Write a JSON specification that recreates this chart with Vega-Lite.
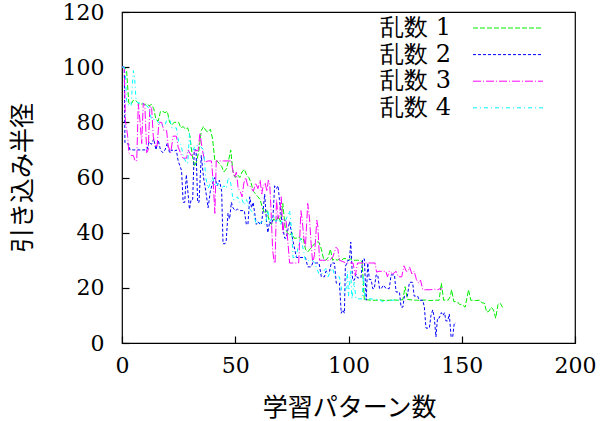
{
  "$schema": "https://vega.github.io/schema/vega-lite/v6.json",
  "width": 453,
  "height": 331,
  "autosize": {"type": "none"},
  "padding": {"left": 122, "top": 12, "right": 27, "bottom": 78},
  "background": "white",
  "config": {
    "view": {"stroke": "black", "strokeWidth": 1.2},
    "axis": {
      "domain": false,
      "grid": false,
      "labelColor": "black",
      "labelFontSize": 22,
      "labelFont": "DejaVu Serif",
      "titleFont": "Noto Sans CJK JP",
      "titleFontSize": 25,
      "titleFontWeight": "normal",
      "titleColor": "black",
      "labelFlush": false,
      "labelOverlap": false
    }
  },
  "data": {
    "values": [
      {"s":"乱数 1","x":0,"y":100},{"s":"乱数 1","x":1,"y":100},{"s":"乱数 1","x":2,"y":99},{"s":"乱数 1","x":3,"y":87},{"s":"乱数 1","x":4,"y":86.5},{"s":"乱数 1","x":5,"y":88},{"s":"乱数 1","x":6,"y":88},{"s":"乱数 1","x":7,"y":87},{"s":"乱数 1","x":8,"y":86.5},{"s":"乱数 1","x":9,"y":86.7},{"s":"乱数 1","x":10,"y":86.5},{"s":"乱数 1","x":11,"y":86.7},{"s":"乱数 1","x":12,"y":86},{"s":"乱数 1","x":13,"y":86.5},{"s":"乱数 1","x":14,"y":85},{"s":"乱数 1","x":15,"y":81},{"s":"乱数 1","x":16,"y":80.5},{"s":"乱数 1","x":17,"y":84},{"s":"乱数 1","x":18,"y":84},{"s":"乱数 1","x":19,"y":83.5},{"s":"乱数 1","x":20,"y":84},{"s":"乱数 1","x":21,"y":80},{"s":"乱数 1","x":22,"y":79},{"s":"乱数 1","x":23,"y":80},{"s":"乱数 1","x":24,"y":80},{"s":"乱数 1","x":25,"y":80},{"s":"乱数 1","x":26,"y":78},{"s":"乱数 1","x":27,"y":78.5},{"s":"乱数 1","x":28,"y":77.5},{"s":"乱数 1","x":29,"y":78},{"s":"乱数 1","x":30,"y":75},{"s":"乱数 1","x":31,"y":68},{"s":"乱数 1","x":32,"y":64},{"s":"乱数 1","x":33,"y":66},{"s":"乱数 1","x":34,"y":70},{"s":"乱数 1","x":35,"y":77},{"s":"乱数 1","x":36,"y":78.5},{"s":"乱数 1","x":37,"y":77},{"s":"乱数 1","x":38,"y":76.5},{"s":"乱数 1","x":39,"y":77.5},{"s":"乱数 1","x":40,"y":74},{"s":"乱数 1","x":41,"y":66},{"s":"乱数 1","x":42,"y":66},{"s":"乱数 1","x":43,"y":65},{"s":"乱数 1","x":44,"y":64},{"s":"乱数 1","x":45,"y":62},{"s":"乱数 1","x":46,"y":63},{"s":"乱数 1","x":47,"y":66},{"s":"乱数 1","x":48,"y":70},{"s":"乱数 1","x":49,"y":62},{"s":"乱数 1","x":50,"y":60},{"s":"乱数 1","x":51,"y":61},{"s":"乱数 1","x":52,"y":60},{"s":"乱数 1","x":53,"y":62},{"s":"乱数 1","x":54,"y":63},{"s":"乱数 1","x":55,"y":61},{"s":"乱数 1","x":56,"y":60},{"s":"乱数 1","x":57,"y":58},{"s":"乱数 1","x":58,"y":55},{"s":"乱数 1","x":59,"y":54},{"s":"乱数 1","x":60,"y":53},{"s":"乱数 1","x":61,"y":52},{"s":"乱数 1","x":62,"y":49},{"s":"乱数 1","x":63,"y":47},{"s":"乱数 1","x":64,"y":48},{"s":"乱数 1","x":65,"y":44},{"s":"乱数 1","x":66,"y":43},{"s":"乱数 1","x":67,"y":45},{"s":"乱数 1","x":68,"y":44},{"s":"乱数 1","x":69,"y":46},{"s":"乱数 1","x":70,"y":44},{"s":"乱数 1","x":71,"y":50.6},{"s":"乱数 1","x":72,"y":42},{"s":"乱数 1","x":73,"y":40},{"s":"乱数 1","x":74,"y":39},{"s":"乱数 1","x":75,"y":40},{"s":"乱数 1","x":76,"y":38},{"s":"乱数 1","x":77,"y":38},{"s":"乱数 1","x":78,"y":38.5},{"s":"乱数 1","x":79,"y":37.5},{"s":"乱数 1","x":80,"y":38},{"s":"乱数 1","x":81,"y":34},{"s":"乱数 1","x":82,"y":33},{"s":"乱数 1","x":83,"y":34},{"s":"乱数 1","x":84,"y":35},{"s":"乱数 1","x":85,"y":36},{"s":"乱数 1","x":86,"y":36.7},{"s":"乱数 1","x":87,"y":36.5},{"s":"乱数 1","x":88,"y":34},{"s":"乱数 1","x":89,"y":30.5},{"s":"乱数 1","x":90,"y":30},{"s":"乱数 1","x":91,"y":31},{"s":"乱数 1","x":92,"y":34},{"s":"乱数 1","x":93,"y":30},{"s":"乱数 1","x":94,"y":30.5},{"s":"乱数 1","x":95,"y":30},{"s":"乱数 1","x":96,"y":30.5},{"s":"乱数 1","x":97,"y":30},{"s":"乱数 1","x":98,"y":30.7},{"s":"乱数 1","x":99,"y":30.5},{"s":"乱数 1","x":100,"y":30},{"s":"乱数 1","x":101,"y":30.5},{"s":"乱数 1","x":102,"y":30},{"s":"乱数 1","x":103,"y":30},{"s":"乱数 1","x":104,"y":30},{"s":"乱数 1","x":105,"y":30},{"s":"乱数 1","x":106,"y":29.5},{"s":"乱数 1","x":107,"y":15.5},{"s":"乱数 1","x":108,"y":15.7},{"s":"乱数 1","x":110,"y":15.5},{"s":"乱数 1","x":112,"y":15.5},{"s":"乱数 1","x":114,"y":15.6},{"s":"乱数 1","x":116,"y":15.4},{"s":"乱数 1","x":118,"y":15.5},{"s":"乱数 1","x":120,"y":15.6},{"s":"乱数 1","x":122,"y":15.5},{"s":"乱数 1","x":124,"y":15.7},{"s":"乱数 1","x":125,"y":20.4},{"s":"乱数 1","x":126,"y":15.8},{"s":"乱数 1","x":128,"y":15.6},{"s":"乱数 1","x":130,"y":15.5},{"s":"乱数 1","x":132,"y":15.5},{"s":"乱数 1","x":134,"y":15.6},{"s":"乱数 1","x":136,"y":15.4},{"s":"乱数 1","x":138,"y":15.5},{"s":"乱数 1","x":140,"y":15.5},{"s":"乱数 1","x":141,"y":21.7},{"s":"乱数 1","x":142,"y":15.5},{"s":"乱数 1","x":143,"y":15.6},{"s":"乱数 1","x":144,"y":15.5},{"s":"乱数 1","x":145,"y":17},{"s":"乱数 1","x":145.5,"y":19.3},{"s":"乱数 1","x":146.5,"y":15},{"s":"乱数 1","x":148,"y":15},{"s":"乱数 1","x":149,"y":14},{"s":"乱数 1","x":150,"y":14},{"s":"乱数 1","x":151.5,"y":13},{"s":"乱数 1","x":153,"y":19.3},{"s":"乱数 1","x":154,"y":15.5},{"s":"乱数 1","x":156,"y":15.4},{"s":"乱数 1","x":158,"y":15.5},{"s":"乱数 1","x":159,"y":14.5},{"s":"乱数 1","x":160,"y":14.5},{"s":"乱数 1","x":161,"y":11.2},{"s":"乱数 1","x":162,"y":11.5},{"s":"乱数 1","x":163,"y":13},{"s":"乱数 1","x":164,"y":12},{"s":"乱数 1","x":165,"y":9},{"s":"乱数 1","x":166,"y":14},{"s":"乱数 1","x":167,"y":14.4},{"s":"乱数 1","x":168.5,"y":12.3},
      {"s":"乱数 2","x":0,"y":100},{"s":"乱数 2","x":1,"y":100},{"s":"乱数 2","x":1.3,"y":72.6},{"s":"乱数 2","x":3,"y":72},{"s":"乱数 2","x":3.5,"y":70},{"s":"乱数 2","x":5,"y":70},{"s":"乱数 2","x":7,"y":70},{"s":"乱数 2","x":9,"y":70},{"s":"乱数 2","x":11,"y":70},{"s":"乱数 2","x":12,"y":73},{"s":"乱数 2","x":13,"y":72},{"s":"乱数 2","x":14,"y":74},{"s":"乱数 2","x":15,"y":70},{"s":"乱数 2","x":16,"y":73.5},{"s":"乱数 2","x":17,"y":70},{"s":"乱数 2","x":18,"y":69},{"s":"乱数 2","x":19,"y":70},{"s":"乱数 2","x":20,"y":72.5},{"s":"乱数 2","x":21,"y":69},{"s":"乱数 2","x":22,"y":70},{"s":"乱数 2","x":23,"y":69.5},{"s":"乱数 2","x":24,"y":70},{"s":"乱数 2","x":24.8,"y":66},{"s":"乱数 2","x":26.3,"y":62.5},{"s":"乱数 2","x":27,"y":51},{"s":"乱数 2","x":27.7,"y":51},{"s":"乱数 2","x":28.4,"y":61},{"s":"乱数 2","x":29.8,"y":48.5},{"s":"乱数 2","x":30.5,"y":52},{"s":"乱数 2","x":31.2,"y":52},{"s":"乱数 2","x":31.9,"y":70},{"s":"乱数 2","x":32.7,"y":70},{"s":"乱数 2","x":33.4,"y":51},{"s":"乱数 2","x":34,"y":51},{"s":"乱数 2","x":35,"y":68},{"s":"乱数 2","x":36,"y":60},{"s":"乱数 2","x":37,"y":55},{"s":"乱数 2","x":38,"y":49},{"s":"乱数 2","x":39,"y":55},{"s":"乱数 2","x":40,"y":58},{"s":"乱数 2","x":41,"y":60},{"s":"乱数 2","x":42,"y":57},{"s":"乱数 2","x":43,"y":59},{"s":"乱数 2","x":44,"y":55},{"s":"乱数 2","x":44.6,"y":36},{"s":"乱数 2","x":45.5,"y":36},{"s":"乱数 2","x":46,"y":37},{"s":"乱数 2","x":46.8,"y":47},{"s":"乱数 2","x":47.5,"y":45},{"s":"乱数 2","x":48.3,"y":51},{"s":"乱数 2","x":49,"y":49},{"s":"乱数 2","x":50,"y":48},{"s":"乱数 2","x":51,"y":48.5},{"s":"乱数 2","x":52,"y":48},{"s":"乱数 2","x":53,"y":48},{"s":"乱数 2","x":54,"y":48},{"s":"乱数 2","x":54.9,"y":43},{"s":"乱数 2","x":55.6,"y":43},{"s":"乱数 2","x":56.4,"y":53},{"s":"乱数 2","x":57.2,"y":49},{"s":"乱数 2","x":57.9,"y":51},{"s":"乱数 2","x":58.6,"y":47},{"s":"乱数 2","x":59.3,"y":43},{"s":"乱数 2","x":60,"y":44},{"s":"乱数 2","x":61,"y":43},{"s":"乱数 2","x":61.5,"y":43},{"s":"乱数 2","x":62.3,"y":48},{"s":"乱数 2","x":63,"y":54},{"s":"乱数 2","x":63.7,"y":45},{"s":"乱数 2","x":64.4,"y":40},{"s":"乱数 2","x":65.2,"y":44},{"s":"乱数 2","x":66,"y":43},{"s":"乱数 2","x":66.6,"y":45},{"s":"乱数 2","x":67.4,"y":57},{"s":"乱数 2","x":68.2,"y":56},{"s":"乱数 2","x":68.9,"y":57},{"s":"乱数 2","x":69.5,"y":52},{"s":"乱数 2","x":70.3,"y":46},{"s":"乱数 2","x":71,"y":42},{"s":"乱数 2","x":71.8,"y":38},{"s":"乱数 2","x":72.5,"y":38},{"s":"乱数 2","x":73.2,"y":41},{"s":"乱数 2","x":74,"y":44},{"s":"乱数 2","x":75,"y":39},{"s":"乱数 2","x":76,"y":35},{"s":"乱数 2","x":77,"y":31},{"s":"乱数 2","x":78,"y":31},{"s":"乱数 2","x":79,"y":31},{"s":"乱数 2","x":80,"y":31},{"s":"乱数 2","x":81,"y":31},{"s":"乱数 2","x":82,"y":27.6},{"s":"乱数 2","x":83.5,"y":27.6},{"s":"乱数 2","x":84.2,"y":29},{"s":"乱数 2","x":85,"y":29},{"s":"乱数 2","x":86,"y":29},{"s":"乱数 2","x":87,"y":29},{"s":"乱数 2","x":88,"y":24},{"s":"乱数 2","x":89.4,"y":24},{"s":"乱数 2","x":90,"y":26},{"s":"乱数 2","x":91.6,"y":26},{"s":"乱数 2","x":92.4,"y":29},{"s":"乱数 2","x":93.8,"y":29},{"s":"乱数 2","x":94.6,"y":21.7},{"s":"乱数 2","x":96,"y":21.7},{"s":"乱数 2","x":96.8,"y":10.8},{"s":"乱数 2","x":97.5,"y":12},{"s":"乱数 2","x":98.2,"y":10.8},{"s":"乱数 2","x":98.6,"y":27.6},{"s":"乱数 2","x":99.7,"y":30},{"s":"乱数 2","x":100.4,"y":30},{"s":"乱数 2","x":101,"y":36.6},{"s":"乱数 2","x":101.8,"y":22.8},{"s":"乱数 2","x":102.6,"y":22.8},{"s":"乱数 2","x":103.3,"y":25},{"s":"乱数 2","x":104,"y":23.6},{"s":"乱数 2","x":105.5,"y":23.6},{"s":"乱数 2","x":106.3,"y":30.5},{"s":"乱数 2","x":107,"y":30.5},{"s":"乱数 2","x":107.8,"y":15.5},{"s":"乱数 2","x":108.5,"y":29},{"s":"乱数 2","x":109.2,"y":23},{"s":"乱数 2","x":110,"y":23},{"s":"乱数 2","x":110.7,"y":19.7},{"s":"乱数 2","x":111.4,"y":19.7},{"s":"乱数 2","x":112.2,"y":24.7},{"s":"乱数 2","x":112.9,"y":24.7},{"s":"乱数 2","x":113.7,"y":19.7},{"s":"乱数 2","x":114.4,"y":19.7},{"s":"乱数 2","x":115.5,"y":21},{"s":"乱数 2","x":116.6,"y":19.7},{"s":"乱数 2","x":118,"y":19.7},{"s":"乱数 2","x":118.8,"y":24.7},{"s":"乱数 2","x":120.3,"y":24.7},{"s":"乱数 2","x":121,"y":18.5},{"s":"乱数 2","x":122.5,"y":18.5},{"s":"乱数 2","x":123.2,"y":13},{"s":"乱数 2","x":124,"y":13},{"s":"乱数 2","x":124.7,"y":17},{"s":"乱数 2","x":126,"y":17},{"s":"乱数 2","x":126.9,"y":22},{"s":"乱数 2","x":128.3,"y":22},{"s":"乱数 2","x":129,"y":17},{"s":"乱数 2","x":130.5,"y":17},{"s":"乱数 2","x":131.3,"y":15.5},{"s":"乱数 2","x":132.8,"y":15.5},{"s":"乱数 2","x":133.5,"y":13},{"s":"乱数 2","x":134.2,"y":5.4},{"s":"乱数 2","x":135.7,"y":5.4},{"s":"乱数 2","x":136.4,"y":10},{"s":"乱数 2","x":137.2,"y":12},{"s":"乱数 2","x":137.9,"y":9},{"s":"乱数 2","x":138.6,"y":2.2},{"s":"乱数 2","x":139.3,"y":9},{"s":"乱数 2","x":140,"y":9},{"s":"乱数 2","x":141,"y":11},{"s":"乱数 2","x":141.7,"y":10},{"s":"乱数 2","x":142.4,"y":11},{"s":"乱数 2","x":143,"y":8},{"s":"乱数 2","x":143.8,"y":8},{"s":"乱数 2","x":144.5,"y":10.5},{"s":"乱数 2","x":145.3,"y":2.2},{"s":"乱数 2","x":146,"y":2.2},{"s":"乱数 2","x":146.7,"y":7.2},{"s":"乱数 2","x":147.4,"y":7.2},
      {"s":"乱数 3","x":0,"y":100},{"s":"乱数 3","x":1,"y":100},{"s":"乱数 3","x":1.5,"y":80.6},{"s":"乱数 3","x":2.5,"y":75},{"s":"乱数 3","x":3,"y":69},{"s":"乱数 3","x":4,"y":68},{"s":"乱数 3","x":5,"y":68},{"s":"乱数 3","x":5.8,"y":66},{"s":"乱数 3","x":6.5,"y":66},{"s":"乱数 3","x":7.2,"y":86.7},{"s":"乱数 3","x":8,"y":80},{"s":"乱数 3","x":8.7,"y":72.3},{"s":"乱数 3","x":9.4,"y":87},{"s":"乱数 3","x":10.1,"y":86},{"s":"乱数 3","x":10.9,"y":69},{"s":"乱数 3","x":11.6,"y":70},{"s":"乱数 3","x":12.3,"y":86},{"s":"乱数 3","x":13.1,"y":85},{"s":"乱数 3","x":13.8,"y":75},{"s":"乱数 3","x":14.5,"y":71.5},{"s":"乱数 3","x":15.5,"y":71.5},{"s":"乱数 3","x":16.3,"y":80},{"s":"乱数 3","x":17.5,"y":80},{"s":"乱数 3","x":18.5,"y":77},{"s":"乱数 3","x":19.7,"y":77},{"s":"乱数 3","x":20.4,"y":71.5},{"s":"乱数 3","x":21.5,"y":69},{"s":"乱数 3","x":22.6,"y":75},{"s":"乱数 3","x":24,"y":75},{"s":"乱数 3","x":24.8,"y":71},{"s":"乱数 3","x":26.3,"y":68},{"s":"乱数 3","x":27,"y":67},{"s":"乱数 3","x":28.5,"y":67},{"s":"乱数 3","x":29.2,"y":70},{"s":"乱数 3","x":30.5,"y":68},{"s":"乱数 3","x":31.4,"y":68},{"s":"乱数 3","x":32.2,"y":69.7},{"s":"乱数 3","x":33.6,"y":69.7},{"s":"乱数 3","x":34.4,"y":76},{"s":"乱数 3","x":35.5,"y":70},{"s":"乱数 3","x":36.6,"y":65.5},{"s":"乱数 3","x":38,"y":66},{"s":"乱数 3","x":39.5,"y":66},{"s":"乱数 3","x":40.3,"y":58},{"s":"乱数 3","x":41,"y":47},{"s":"乱数 3","x":41.6,"y":66},{"s":"乱数 3","x":43,"y":66},{"s":"乱数 3","x":45,"y":66},{"s":"乱数 3","x":47,"y":66},{"s":"乱数 3","x":48.3,"y":66},{"s":"乱数 3","x":48.8,"y":63},{"s":"乱数 3","x":49.7,"y":60},{"s":"乱数 3","x":50.5,"y":62},{"s":"乱数 3","x":51.3,"y":56},{"s":"乱数 3","x":52.2,"y":55},{"s":"乱数 3","x":53,"y":53},{"s":"乱数 3","x":53.8,"y":58},{"s":"乱数 3","x":54.6,"y":60},{"s":"乱数 3","x":55.5,"y":57},{"s":"乱数 3","x":56.4,"y":57},{"s":"乱数 3","x":57.2,"y":56},{"s":"乱数 3","x":58,"y":55},{"s":"乱数 3","x":59,"y":58},{"s":"乱数 3","x":60,"y":56},{"s":"乱数 3","x":61,"y":59},{"s":"乱数 3","x":61.7,"y":54},{"s":"乱数 3","x":62.3,"y":57},{"s":"乱数 3","x":63.2,"y":58},{"s":"乱数 3","x":64,"y":55},{"s":"乱数 3","x":64.6,"y":59},{"s":"乱数 3","x":65.2,"y":57.8},{"s":"乱数 3","x":65.7,"y":50},{"s":"乱数 3","x":66.5,"y":34},{"s":"乱数 3","x":67.2,"y":29},{"s":"乱数 3","x":67.6,"y":29},{"s":"乱数 3","x":68.2,"y":52},{"s":"乱数 3","x":69,"y":45},{"s":"乱数 3","x":69.6,"y":47},{"s":"乱数 3","x":70.3,"y":53},{"s":"乱数 3","x":71,"y":40},{"s":"乱数 3","x":71.8,"y":45},{"s":"乱数 3","x":72.5,"y":44},{"s":"乱数 3","x":73.2,"y":37},{"s":"乱数 3","x":74,"y":29},{"s":"乱数 3","x":75,"y":29},{"s":"乱数 3","x":76.5,"y":29},{"s":"乱数 3","x":78,"y":29},{"s":"乱数 3","x":79,"y":48},{"s":"乱数 3","x":79.5,"y":45},{"s":"乱数 3","x":80.3,"y":38},{"s":"乱数 3","x":81,"y":35},{"s":"乱数 3","x":82,"y":50.6},{"s":"乱数 3","x":82.8,"y":45},{"s":"乱数 3","x":83.5,"y":36},{"s":"乱数 3","x":84.2,"y":29},{"s":"乱数 3","x":85,"y":32},{"s":"乱数 3","x":86,"y":44.5},{"s":"乱数 3","x":86.5,"y":42},{"s":"乱数 3","x":87.2,"y":30},{"s":"乱数 3","x":88.5,"y":30},{"s":"乱数 3","x":90,"y":30},{"s":"乱数 3","x":91.5,"y":30},{"s":"乱数 3","x":93,"y":31},{"s":"乱数 3","x":94.5,"y":34.7},{"s":"乱数 3","x":95.3,"y":34},{"s":"乱数 3","x":96,"y":30},{"s":"乱数 3","x":97.5,"y":29.5},{"s":"乱数 3","x":99,"y":29},{"s":"乱数 3","x":100.5,"y":29},{"s":"乱数 3","x":102,"y":29},{"s":"乱数 3","x":103,"y":24.5},{"s":"乱数 3","x":104,"y":29},{"s":"乱数 3","x":106,"y":29},{"s":"乱数 3","x":108,"y":29},{"s":"乱数 3","x":110,"y":29},{"s":"乱数 3","x":111.7,"y":29},{"s":"乱数 3","x":112.4,"y":25.7},{"s":"乱数 3","x":113.5,"y":26},{"s":"乱数 3","x":115,"y":26},{"s":"乱数 3","x":116.5,"y":26},{"s":"乱数 3","x":117.2,"y":24},{"s":"乱数 3","x":118,"y":26},{"s":"乱数 3","x":119.5,"y":25},{"s":"乱数 3","x":121,"y":26},{"s":"乱数 3","x":122,"y":24},{"s":"乱数 3","x":123.5,"y":24},{"s":"乱数 3","x":124.5,"y":28},{"s":"乱数 3","x":125.5,"y":26},{"s":"乱数 3","x":126.3,"y":26},{"s":"乱数 3","x":127,"y":27.5},{"s":"乱数 3","x":128,"y":25},{"s":"乱数 3","x":129,"y":26},{"s":"乱数 3","x":130,"y":23},{"s":"乱数 3","x":131,"y":21.7},{"s":"乱数 3","x":131.8,"y":22.8},{"s":"乱数 3","x":132.8,"y":19.3},{"s":"乱数 3","x":134,"y":19.3},{"s":"乱数 3","x":136,"y":19.3},{"s":"乱数 3","x":138,"y":19.5},{"s":"乱数 3","x":139.5,"y":19.3},{"s":"乱数 3","x":140.5,"y":19.8},{"s":"乱数 3","x":141.4,"y":19.5},
      {"s":"乱数 4","x":0,"y":100},{"s":"乱数 4","x":1,"y":100},{"s":"乱数 4","x":1.5,"y":98},{"s":"乱数 4","x":2,"y":88},{"s":"乱数 4","x":3,"y":86},{"s":"乱数 4","x":4,"y":86},{"s":"乱数 4","x":5,"y":98.7},{"s":"乱数 4","x":5.5,"y":97},{"s":"乱数 4","x":6.2,"y":88},{"s":"乱数 4","x":7,"y":87},{"s":"乱数 4","x":8,"y":87},{"s":"乱数 4","x":9,"y":87},{"s":"乱数 4","x":10,"y":86},{"s":"乱数 4","x":11,"y":86},{"s":"乱数 4","x":12,"y":85},{"s":"乱数 4","x":13,"y":81},{"s":"乱数 4","x":14,"y":81},{"s":"乱数 4","x":15,"y":81},{"s":"乱数 4","x":16,"y":80},{"s":"乱数 4","x":17,"y":79},{"s":"乱数 4","x":18,"y":79},{"s":"乱数 4","x":19,"y":79},{"s":"乱数 4","x":20,"y":81.5},{"s":"乱数 4","x":21,"y":81.5},{"s":"乱数 4","x":22,"y":78},{"s":"乱数 4","x":23,"y":78},{"s":"乱数 4","x":24,"y":78},{"s":"乱数 4","x":25,"y":73},{"s":"乱数 4","x":26,"y":72},{"s":"乱数 4","x":27,"y":68},{"s":"乱数 4","x":28,"y":66},{"s":"乱数 4","x":29,"y":65},{"s":"乱数 4","x":29.8,"y":76},{"s":"乱数 4","x":30.5,"y":70},{"s":"乱数 4","x":31.5,"y":70},{"s":"乱数 4","x":32.2,"y":71.5},{"s":"乱数 4","x":33.6,"y":71.5},{"s":"乱数 4","x":35,"y":71},{"s":"乱数 4","x":36,"y":70},{"s":"乱数 4","x":37,"y":60},{"s":"乱数 4","x":38,"y":56},{"s":"乱数 4","x":39,"y":58},{"s":"乱数 4","x":40,"y":60},{"s":"乱数 4","x":41,"y":57},{"s":"乱数 4","x":42,"y":58},{"s":"乱数 4","x":43,"y":56},{"s":"乱数 4","x":44,"y":56},{"s":"乱数 4","x":45,"y":57},{"s":"乱数 4","x":46,"y":56},{"s":"乱数 4","x":47,"y":60},{"s":"乱数 4","x":48,"y":58},{"s":"乱数 4","x":49,"y":52},{"s":"乱数 4","x":50,"y":52},{"s":"乱数 4","x":51,"y":53},{"s":"乱数 4","x":52,"y":51},{"s":"乱数 4","x":53,"y":52},{"s":"乱数 4","x":54,"y":50},{"s":"乱数 4","x":55,"y":52},{"s":"乱数 4","x":56,"y":49},{"s":"乱数 4","x":57,"y":48},{"s":"乱数 4","x":58,"y":47},{"s":"乱数 4","x":59.3,"y":43},{"s":"乱数 4","x":60,"y":44},{"s":"乱数 4","x":61,"y":43.5},{"s":"乱数 4","x":62,"y":44},{"s":"乱数 4","x":63,"y":43},{"s":"乱数 4","x":63.6,"y":44},{"s":"乱数 4","x":64.4,"y":48},{"s":"乱数 4","x":65.2,"y":44},{"s":"乱数 4","x":66,"y":45},{"s":"乱数 4","x":67,"y":46},{"s":"乱数 4","x":68,"y":44},{"s":"乱数 4","x":69,"y":45},{"s":"乱数 4","x":70,"y":43},{"s":"乱数 4","x":71,"y":45},{"s":"乱数 4","x":72,"y":44},{"s":"乱数 4","x":73,"y":46},{"s":"乱数 4","x":74,"y":48},{"s":"乱数 4","x":75,"y":40},{"s":"乱数 4","x":75.5,"y":31},{"s":"乱数 4","x":76.9,"y":31},{"s":"乱数 4","x":78,"y":36},{"s":"乱数 4","x":79,"y":38},{"s":"乱数 4","x":80,"y":34},{"s":"乱数 4","x":81,"y":30},{"s":"乱数 4","x":82,"y":30},{"s":"乱数 4","x":83,"y":30},{"s":"乱数 4","x":84,"y":30},{"s":"乱数 4","x":85,"y":29},{"s":"乱数 4","x":86,"y":27},{"s":"乱数 4","x":87,"y":25},{"s":"乱数 4","x":88,"y":25},{"s":"乱数 4","x":89,"y":26},{"s":"乱数 4","x":90,"y":27},{"s":"乱数 4","x":91,"y":24},{"s":"乱数 4","x":92,"y":26},{"s":"乱数 4","x":93,"y":27},{"s":"乱数 4","x":94,"y":24},{"s":"乱数 4","x":95,"y":24},{"s":"乱数 4","x":96,"y":24},{"s":"乱数 4","x":97,"y":19},{"s":"乱数 4","x":98,"y":18},{"s":"乱数 4","x":99,"y":20},{"s":"乱数 4","x":99.5,"y":26},{"s":"乱数 4","x":100,"y":17},{"s":"乱数 4","x":101,"y":26},{"s":"乱数 4","x":101.5,"y":16},{"s":"乱数 4","x":102.5,"y":22},{"s":"乱数 4","x":103.3,"y":16},{"s":"乱数 4","x":104,"y":16},{"s":"乱数 4","x":105,"y":16},{"s":"乱数 4","x":106,"y":16},{"s":"乱数 4","x":106.6,"y":24.5},{"s":"乱数 4","x":107.3,"y":16},{"s":"乱数 4","x":108,"y":16},{"s":"乱数 4","x":110,"y":16},{"s":"乱数 4","x":112,"y":15.8},{"s":"乱数 4","x":114,"y":15.5},{"s":"乱数 4","x":115,"y":15},{"s":"乱数 4","x":116,"y":15},{"s":"乱数 4","x":118,"y":15.5},{"s":"乱数 4","x":120,"y":15.5},{"s":"乱数 4","x":122,"y":15.5}
    ]
  },
  "mark": {"type": "line", "strokeWidth": 1, "interpolate": "linear"},
  "encoding": {
    "x": {
      "field": "x", "type": "quantitative",
      "scale": {"domain": [0, 200], "nice": false, "zero": false},
      "axis": {"orient": "bottom", "ticks": true, "tickSize": -7, "tickColor": "black", "tickWidth": 1.2, "values": [0, 50, 100, 150, 200], "labelPadding": 19, "title": "学習パターン数", "titleX": 227, "titleY": 64, "titleBaseline": "middle"}
    },
    "y": {
      "field": "y", "type": "quantitative",
      "scale": {"domain": [0, 120], "nice": false, "zero": false},
      "axis": {"orient": "left", "ticks": true, "tickSize": -7, "tickColor": "black", "tickWidth": 1.2, "values": [0, 20, 40, 60, 80, 100, 120], "labelPadding": 25, "title": "引き込み半径", "titleX": -100, "titleY": 165.5, "titleBaseline": "middle"}
    },
    "color": {
      "field": "s", "type": "nominal",
      "scale": {"domain": ["乱数 1", "乱数 2", "乱数 3", "乱数 4"], "range": ["#00ee00", "#0000ff", "#ff00ff", "#00ffff"]},
      "legend": {"title": null, "orient": "none", "legendX": 374, "legendY": 4, "symbolType": "M-7,0H7", "symbolSize": 100, "symbolStrokeWidth": 1, "labelFontSize": 24, "labelFont": "DejaVu Serif", "labelColor": "black", "labelAlign": "right", "labelOffset": -69, "labelLimit": 300, "rowPadding": 2.6, "padding": 0}
    },
    "strokeDash": {
      "field": "s", "type": "nominal",
      "scale": {"domain": ["乱数 1", "乱数 2", "乱数 3", "乱数 4"], "range": [[5, 2], [3, 2], [8, 2, 1, 2], [4, 3, 1, 3]]},
      "legend": {"title": null, "orient": "none", "legendX": 374, "legendY": 4, "symbolType": "M-7,0H7", "symbolSize": 100, "symbolStrokeWidth": 1, "labelFontSize": 24, "labelFont": "DejaVu Serif", "labelColor": "black", "labelAlign": "right", "labelOffset": -69, "labelLimit": 300, "rowPadding": 2.6, "padding": 0}
    }
  }
}
